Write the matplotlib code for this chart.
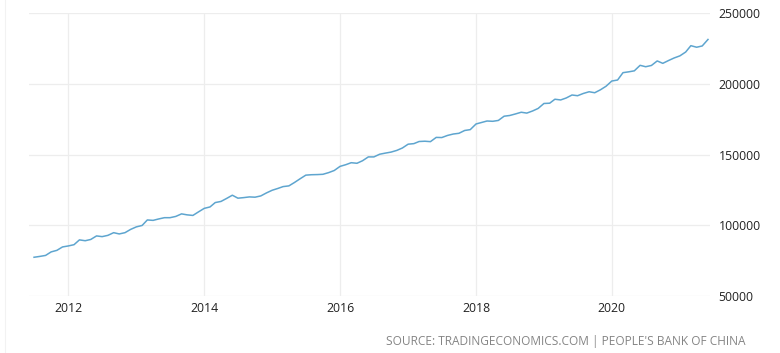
"""Monthly series with right-hand axis, TradingEconomics-style."""

import datetime as dt

import matplotlib

matplotlib.use("Agg")
import matplotlib.dates as mdates
import matplotlib.pyplot as plt
from matplotlib.lines import Line2D

# Monthly values, Jul 2011 .. Jun 2021
START_YEAR, START_MONTH = 2011, 7
VALUES = [
    77400, 78000, 78700, 81200, 82300, 84700,
    85400, 86300, 89700, 89100, 90000, 92500,
    92000, 92900, 94800, 93900, 94800, 97100,
    98900, 99900, 103800, 103500, 104500, 105400,
    105400, 106300, 108100, 107400, 107000, 109500,
    112000, 113000, 116100, 116900, 119000, 121300,
    119200, 119600, 120100, 119900, 120800, 122900,
    124800, 126100, 127400, 127900, 130300, 133000,
    135500, 135800, 135900, 136100, 137300, 138800,
    141700, 142900, 144300, 143900, 145700, 148400,
    148400, 150300, 151100, 151800, 153000, 154700,
    157400, 157800, 159300, 159500, 159200, 162200,
    162100, 163600, 164600, 165100, 167100, 167700,
    171700, 172800, 173800, 173600, 174200, 177200,
    177700, 178800, 180000, 179400, 180900, 182700,
    186200, 186400, 189200, 188700, 190100, 192200,
    191700, 193300, 194500, 193800, 195900, 198400,
    202100, 202800, 208000, 208600, 209300, 213200,
    212200, 213100, 216300, 214600, 216600, 218400,
    219900, 222600, 227100, 226000, 226900, 231500,
]
Y_TICKS = [50000, 100000, 150000, 200000, 250000]
X_TICK_YEARS = [2012, 2014, 2016, 2018, 2020]
SOURCE = "SOURCE: TRADINGECONOMICS.COM | PEOPLE'S BANK OF CHINA"

LINE_COLOR = "#5ea5cf"
GRID_COLOR = "#ededed"
TEXT_COLOR = "#222222"
SOURCE_COLOR = "#858585"

plt.rcParams["font.family"] = ["Open Sans", "DejaVu Sans"]


def month_dates(n):
    out = []
    y, m = START_YEAR, START_MONTH
    for _ in range(n):
        out.append(dt.date(y, m, 1))
        m += 1
        if m > 12:
            y, m = y + 1, 1
    return out


dates = month_dates(len(VALUES))

fig = plt.figure(figsize=(7.8, 3.53), dpi=100)
ax = fig.add_axes([0.0372, 0.1615, 0.8731, 0.8008])

ax.plot(dates, VALUES, color=LINE_COLOR, linewidth=1.1, solid_joinstyle="round")

ax.set_ylim(50000, 250000)
ax.set_xlim(dt.date(2011, 6, 4), dt.date(2021, 6, 12))
ax.set_yticks(Y_TICKS)
ax.set_yticklabels([str(v) for v in Y_TICKS])
ax.set_xticks([dt.date(y, 1, 1) for y in X_TICK_YEARS])
ax.xaxis.set_major_formatter(mdates.DateFormatter("%Y"))

ax.yaxis.tick_right()
ax.tick_params(axis="both", length=0, labelsize=8.8, colors=TEXT_COLOR)
ax.tick_params(axis="y", pad=6)
ax.tick_params(axis="x", pad=4)
for lbl in ax.get_yticklabels():
    lbl.set_horizontalalignment("left")

ax.grid(color=GRID_COLOR, linewidth=0.9)
ax.set_axisbelow(True)
for spine in ax.spines.values():
    spine.set_visible(False)

# faint frame edge on the left of the image
fig.add_artist(Line2D([5 / 780, 5 / 780], [0, 1], transform=fig.transFigure,
                      color="#f2f2f2", linewidth=0.8))

fig.text(745 / 780, 1 - 341 / 353, SOURCE, ha="right", va="center",
         fontsize=8.6, color=SOURCE_COLOR)

fig.savefig("out.png", dpi=100)
plt.close(fig)
